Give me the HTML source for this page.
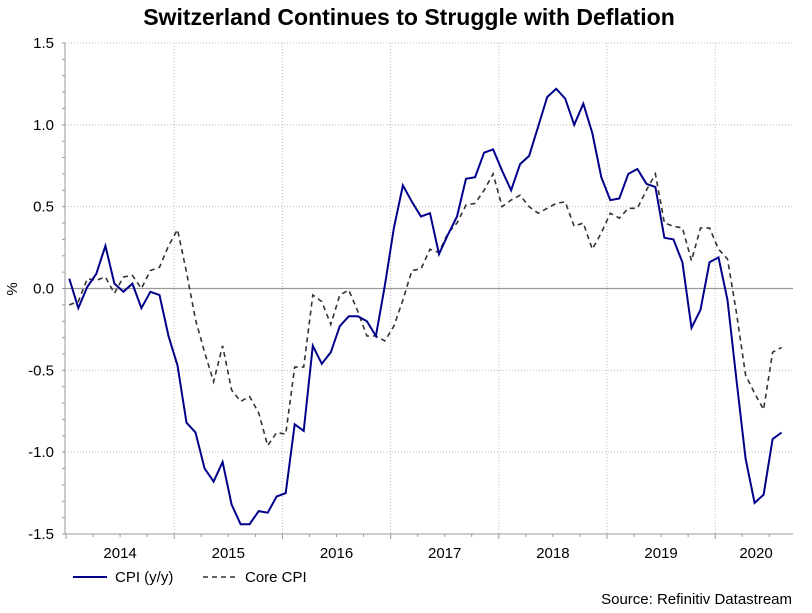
<!DOCTYPE html>
<html><head><meta charset="utf-8"><style>
body{margin:0;background:#fff;width:812px;height:608px;overflow:hidden;font-family:"Liberation Sans",Arial,sans-serif}
svg text{font-family:"Liberation Sans",Arial,sans-serif}
</style></head><body>
<svg id="chart" width="812" height="608">
<text x="409" y="25" text-anchor="middle" font-size="23" font-weight="bold">Switzerland Continues to Struggle with Deflation</text>
<g id="grid"></g>
<g id="axes"></g>
<g id="series"></g>
<text transform="translate(17,289) rotate(-90)" text-anchor="middle" font-size="15">%</text>
<g>
<g><line x1="73" y1="577" x2="107" y2="577" stroke="#00008b" stroke-width="2"/><text x="115" y="582" font-size="15">CPI (y/y)</text></g>
<g><line x1="203" y1="577" x2="237" y2="577" stroke="#333" stroke-width="1.6" stroke-dasharray="5,4"/><text x="245" y="582" font-size="15">Core CPI</text></g>
</g>
<text x="792" y="604" text-anchor="end" font-size="15">Source: Refinitiv Datastream</text>
</svg>
<script>
const years = ["2014","2015","2016","2017","2018","2019","2020"];
const yTicks = [1.5,1.0,0.5,0.0,-0.5,-1.0,-1.5];
const yTickLabels = ["1.5","1.0","0.5","0.0","-0.5","-1.0","-1.5"];
const cpi = [0.06,-0.12,0.01,0.09,0.26,0.03,-0.02,0.03,-0.12,-0.02,-0.04,-0.29,-0.47,-0.82,-0.88,-1.1,-1.18,-1.06,-1.32,-1.44,-1.44,-1.36,-1.37,-1.27,-1.25,-0.83,-0.87,-0.35,-0.46,-0.39,-0.23,-0.17,-0.17,-0.2,-0.29,0.02,0.37,0.63,0.53,0.44,0.46,0.21,0.33,0.44,0.67,0.68,0.83,0.85,0.72,0.6,0.76,0.81,0.99,1.17,1.22,1.16,1.0,1.13,0.95,0.68,0.54,0.55,0.7,0.73,0.64,0.62,0.31,0.3,0.16,-0.24,-0.13,0.16,0.19,-0.07,-0.56,-1.04,-1.31,-1.26,-0.92,-0.88];
const core = [-0.1,-0.08,0.06,0.05,0.07,-0.03,0.07,0.08,0.0,0.11,0.13,0.26,0.36,0.1,-0.19,-0.39,-0.57,-0.35,-0.62,-0.69,-0.66,-0.76,-0.96,-0.88,-0.89,-0.48,-0.48,-0.04,-0.08,-0.22,-0.04,-0.01,-0.14,-0.29,-0.29,-0.32,-0.23,-0.07,0.11,0.12,0.24,0.22,0.34,0.4,0.51,0.52,0.6,0.7,0.5,0.54,0.57,0.5,0.46,0.49,0.52,0.53,0.38,0.4,0.24,0.34,0.46,0.43,0.49,0.49,0.6,0.7,0.4,0.38,0.37,0.17,0.37,0.37,0.24,0.18,-0.15,-0.53,-0.64,-0.74,-0.39,-0.36];
const NS="http://www.w3.org/2000/svg";
const L=65,R=793,T=43,B=534,yMin=-1.5,yMax=1.5;
const yearW=108.2, mW=yearW/12, x0=69.3;
const yS=v=>B-(v-yMin)/(yMax-yMin)*(B-T);
const xS=i=>x0+i*mW;
const xYear=k=>L+1+k*yearW;
function mk(tag,attrs,parent){const e=document.createElementNS(NS,tag);for(const k in attrs)e.setAttribute(k,attrs[k]);parent.appendChild(e);return e;}
const grid=document.getElementById('grid'),axes=document.getElementById('axes'),series=document.getElementById('series');
yTicks.forEach((v,i)=>{
  const y=yS(v);
  if(v!==0&&v!==yMin){const g=mk('line',{x1:L,x2:R,y1:y,y2:y,stroke:'#bbb','stroke-dasharray':'1,2'},grid);
  
  }
  const t=mk('text',{x:L-11,y:y+5,'text-anchor':'end','font-size':15},axes);t.textContent=yTickLabels[i];
  
  
});
for(let v=-15;v<=15;v++){const y=yS(v/10);mk('line',{x1:L-3,x2:L,y1:y,y2:y,stroke:'#999'},axes);}
const zl=mk('line',{x1:L,x2:R,y1:yS(0),y2:yS(0),stroke:'#999','stroke-width':1.2},grid);


for(let k=1;k<years.length;k++){const x=xYear(k);const g=mk('line',{x1:x,x2:x,y1:T,y2:B,stroke:'#bbb','stroke-dasharray':'1,2'},grid);
  
  }
for(let q=0;q<=28;q++){const x=L+1+q*yearW/4;if(x>R)break;mk('line',{x1:x,x2:x,y1:B,y2:B+(q%4===0?5:3),stroke:'#999'},axes);}
years.forEach((yr,k)=>{const t=mk('text',{x:Math.min(xYear(k)+yearW/2,756),y:558,'text-anchor':'middle','font-size':15},axes);t.textContent=yr;
  
  });
mk('line',{x1:L,x2:L,y1:T,y2:B,stroke:'#999'},axes);
mk('line',{x1:L,x2:R,y1:B,y2:B,stroke:'#999'},axes);
const pts=a=>a.map((v,i)=>xS(i).toFixed(1)+','+yS(v).toFixed(1)).join(' ');
const c2=mk('polyline',{points:pts(core),fill:'none',stroke:'#333','stroke-width':1.6,'stroke-dasharray':'5,4'},series);


const c1=mk('polyline',{points:pts(cpi),fill:'none',stroke:'#00008b','stroke-width':2},series);


</script>
</body></html>
